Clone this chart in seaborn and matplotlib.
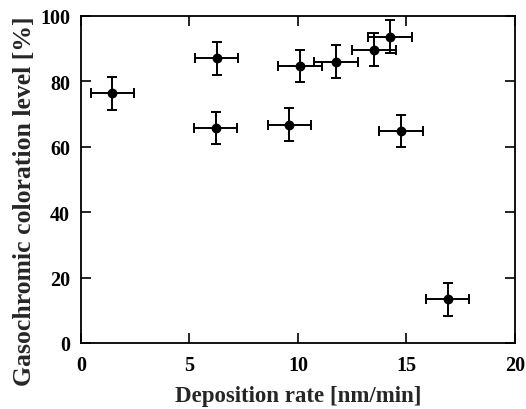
import matplotlib
matplotlib.use("Agg")
import matplotlib.pyplot as plt
import seaborn as sns
import pandas as pd

rate = [1.45, 6.25, 6.2, 9.6, 10.1, 11.75, 13.5, 14.25, 14.75, 16.9]
level = [76.3, 87.0, 65.7, 66.7, 84.7, 86.0, 89.6, 93.6, 64.8, 13.4]
rate_err = [1.0, 1.0, 1.0, 1.0, 1.0, 1.0, 1.0, 1.0, 1.0, 1.0]
level_err = [5.0, 5.0, 5.0, 5.0, 5.0, 5.0, 5.0, 5.0, 5.0, 5.0]
xticks = [0, 5, 10, 15, 20]
yticks = [0, 20, 40, 60, 80, 100]

sns.set_theme(style="ticks")
plt.rcParams['font.family'] = ['Liberation Serif', 'DejaVu Serif']

df = pd.DataFrame({"rate": rate, "level": level})

fig = plt.figure(figsize=(5.26, 4.10), dpi=100)
ax = fig.add_axes([0.154, 0.161, 0.825, 0.798])

ax.errorbar(rate, level, xerr=rate_err, yerr=level_err, fmt='none',
            ecolor='black', elinewidth=1.4, capsize=3.5, capthick=1.4, zorder=2)
sns.scatterplot(data=df, x="rate", y="level", ax=ax, color='black', s=50,
                edgecolor='black', linewidth=0, zorder=3, legend=False)

ax.set_xlim(0, 20)
ax.set_ylim(0, 100)
ax.set_xticks(xticks)
ax.set_yticks(yticks)
ax.tick_params(direction='in', length=7, width=1.2, top=True, right=True,
               labelsize=14.5, colors='black')
ax.tick_params(axis='x', pad=9)
ax.tick_params(axis='y', pad=8)
for lab in ax.get_xticklabels() + ax.get_yticklabels():
    lab.set_fontweight('bold')
for sp in ax.spines.values():
    sp.set_linewidth(1.3)
    sp.set_color('black')
    sp.set_visible(True)

ax.set_xlabel("Deposition rate [nm/min]", fontsize=16.5, fontweight='bold', labelpad=7)
ax.set_ylabel("Gasochromic coloration level [%]", fontsize=18.5, fontweight='bold')
ax.yaxis.set_label_coords(-0.104, 0.437)

fig.savefig("out.png", dpi=100)
